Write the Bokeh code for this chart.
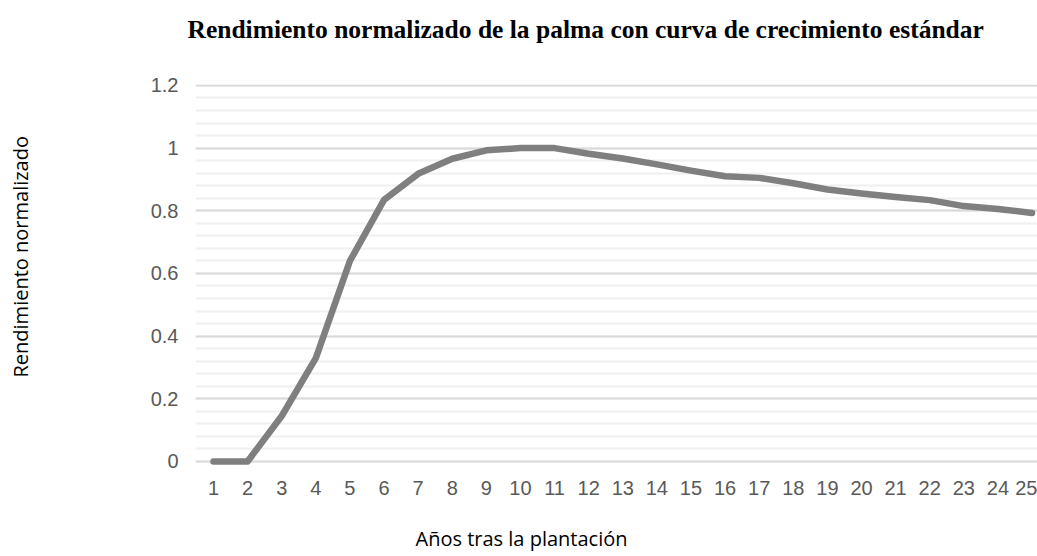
from bokeh.plotting import figure
from bokeh.models import Range1d, FixedTicker, Title, LinearAxis
from bokeh.embed import file_html
from bokeh.resources import INLINE

# ---- data ----
years = list(range(1, 26))
rendimiento = [0.0, 0.0, 0.145, 0.33, 0.64, 0.835, 0.918, 0.966, 0.993, 1.0,
               1.0, 0.982, 0.967, 0.948, 0.928, 0.91, 0.905, 0.888, 0.868, 0.855,
               0.844, 0.834, 0.815, 0.806, 0.793]
x_tick_labels = [str(y) for y in years]
y_ticks = [0, 0.2, 0.4, 0.6, 0.8, 1.0, 1.2]
y_tick_labels = ["0", "0.2", "0.4", "0.6", "0.8", "1", "1.2"]
title_text = "Rendimiento normalizado de la palma con curva de crecimiento estándar"
x_title = "Años tras la plantación"
y_title = "Rendimiento normalizado"

W, H = 1037, 556
FL, FB, FT = 195, 465, 84
p = figure(width=W, height=H, output_backend="svg", toolbar_location=None,
           x_range=Range1d(0.472, 25.16), y_range=Range1d(-0.0129, 1.203),
           min_border_left=FL, min_border_right=0, min_border_top=FT,
           min_border_bottom=H - FB)
p.outline_line_color = None
p.background_fill_color = "white"
p.border_fill_color = "white"

p.line(years, rendimiento, line_color="#7f7f7f", line_width=6.5,
       line_join="round", line_cap="round")

# axes
p.xaxis.ticker = FixedTicker(ticks=years)
p.xaxis.major_label_overrides = {y: l for y, l in zip(years, x_tick_labels)}
p.yaxis.ticker = FixedTicker(ticks=y_ticks, minor_ticks=[i * 0.04 for i in range(31)])
p.yaxis.major_label_overrides = {t: l for t, l in zip(y_ticks, y_tick_labels)}
for ax in (p.xaxis, p.yaxis):
    ax.axis_line_color = None
    ax.major_tick_line_color = None
    ax.minor_tick_line_color = None
    ax.major_tick_out = 0
    ax.minor_tick_out = 0
    ax.major_label_text_font = "Liberation Sans"
    ax.major_label_text_font_size = "20px"
    ax.major_label_text_color = "#595959"
p.yaxis.major_label_standoff = 17
p.xaxis.major_label_standoff = 15

p.xgrid.visible = False
p.ygrid.grid_line_color = "#d9d9d9"
p.ygrid.grid_line_width = 2
p.ygrid.minor_grid_line_color = "#f0f0f0"
p.ygrid.minor_grid_line_width = 2


def spacer(size, at):
    # blank axis used only to reserve space between the frame and a title
    return LinearAxis(ticker=FixedTicker(ticks=[at], minor_ticks=[]),
                      major_label_overrides={at: ""},
                      major_tick_out=size, major_tick_in=0,
                      minor_tick_out=0, minor_tick_in=0,
                      major_tick_line_color="white", major_tick_line_width=1,
                      major_label_standoff=0, major_label_text_font_size="0px",
                      axis_line_color=None)


# title (above): spacer nearest the frame, then the title
p.add_layout(spacer(36, 25.1), "above")
p.add_layout(Title(text=title_text, align="left", offset=187 - FL,
                   text_font="Liberation Serif", text_font_style="bold",
                   text_font_size="25.5px", text_color="#000000", standoff=10),
             "above")
# x axis title (below)
p.add_layout(spacer(23, 25.1), "below")
p.add_layout(Title(text=x_title, align="left", offset=415 - FL,
                   text_font="Open Sans", text_font_style="normal",
                   text_font_size="20px", text_color="#000000", standoff=4),
             "below")
# y axis title (left)
p.add_layout(spacer(113, 1.19), "left")
p.add_layout(Title(text=y_title, align="left", offset=FB - 377,
                   text_font="Open Sans", text_font_style="normal",
                   text_font_size="20px", text_color="#000000", standoff=2),
             "left")

open("out.html", "w").write(file_html(p, INLINE))
